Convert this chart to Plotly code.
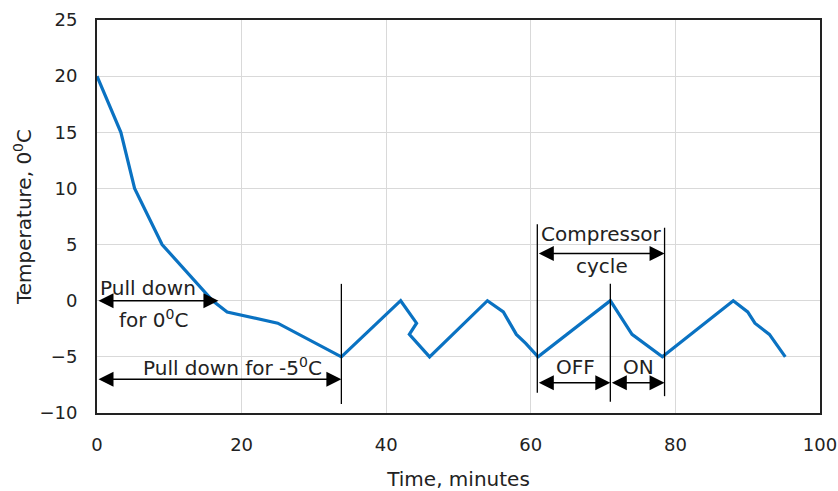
import plotly.graph_objects as go

time_min = [0, 3.3, 5.2, 9, 16, 18, 25, 33.8, 42, 44.2, 43.2, 46, 54, 56.2, 58, 59.3, 61, 71, 74, 78.2, 88, 90, 91, 93, 95.2]
temp_c = [20, 15, 10, 5, 0, -1, -2, -5, 0, -2, -3, -5, 0, -1, -3, -3.8, -5, 0, -3, -5, 0, -1, -2, -3, -5]

x_ticks = [0, 20, 40, 60, 80, 100]
y_ticks = [-10, -5, 0, 5, 10, 15, 20, 25]

FONT = "DejaVu Sans"
TXT = "#222"
LINE_COLOR = "#0a72c2"

fig = go.Figure()
fig.add_trace(go.Scatter(x=time_min, y=temp_c, mode="lines",
                         line=dict(color=LINE_COLOR, width=3.2), showlegend=False))

# vertical marker lines (x, y0, y1)
vlines = [(33.8, 1.5, -9.2), (60.9, 6.8, -8.2), (78.5, 6.5, -8.5), (71.0, 1.5, -9.0)]
for vx, y0, y1 in vlines:
    fig.add_shape(type="line", x0=vx, x1=vx, y0=y0, y1=y1, xref="x", yref="y",
                  line=dict(color="black", width=1.3))

# double-headed arrows (x0, x1, y)
arrows = [(0, 16.8, 0), (0, 33.8, -7), (60.9, 78.5, 4.2), (60.9, 71.0, -7.3), (71.0, 78.5, -7.3)]
for x0, x1, ya in arrows:
    fig.add_annotation(x=x1, y=ya, ax=x0, ay=ya, xref="x", yref="y", axref="x", ayref="y",
                       text="", showarrow=True, arrowhead=2, startarrowhead=2,
                       arrowside="end+start", arrowsize=2.0, startarrowsize=2.0,
                       arrowwidth=1.5, arrowcolor="black")

# text labels (text, x, y)
labels = [("Pull down", 7.0, 1.1), ("for 0<sup>0</sup>C", 7.8, -1.6),
          ("Pull down for -5<sup>0</sup>C", 18.8, -5.9),
          ("Compressor", 69.8, 5.9), ("cycle", 69.8, 3.1),
          ("OFF", 66.2, -5.9), ("ON", 74.9, -5.9)]
for t, lx, ly in labels:
    fig.add_annotation(x=lx, y=ly, xref="x", yref="y", text=t, showarrow=False,
                       font=dict(family=FONT, size=20, color=TXT))

axis_common = dict(showgrid=True, gridcolor="#d9d9d9", gridwidth=1.3,
                   showline=True, linecolor="#222", linewidth=2, mirror=True,
                   zeroline=False, ticks="", automargin=False,
                   tickfont=dict(family=FONT, size=18, color=TXT))

fig.update_xaxes(range=[0, 100], tickvals=x_ticks, ticklabelstandoff=14,
                 title=dict(text="Time, minutes", font=dict(family=FONT, size=20, color=TXT), standoff=19),
                 **axis_common)
fig.update_yaxes(range=[-10, 25], tickvals=y_ticks, ticklabelstandoff=14,
                 title=dict(text="Temperature, 0<sup>0</sup>C", font=dict(family=FONT, size=20, color=TXT), standoff=2),
                 **axis_common)

fig.update_layout(width=838, height=491, margin=dict(l=97, r=18, t=20, b=78),
                  plot_bgcolor="white", paper_bgcolor="white",
                  font=dict(family=FONT))

fig.write_html("out.html")
